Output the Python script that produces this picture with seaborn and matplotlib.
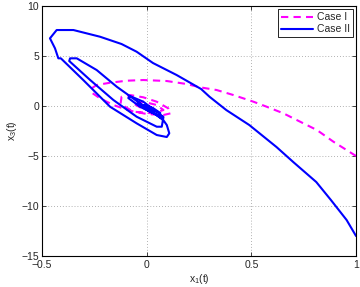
import numpy as np
import pandas as pd
import matplotlib
matplotlib.use("Agg")
import matplotlib.pyplot as plt
import seaborn as sns

# Case I (dashed magenta) trajectory
case1_x = [1.0, 0.892, 0.813, 0.733, 0.653, 0.573, 0.51, 0.414, 0.334, 0.255, 0.191, 0.096,
           -0.016, -0.096, -0.175, -0.239, -0.263, -0.258, -0.223, -0.159, -0.08, 0.0, 0.08,
           0.115, 0.103, 0.048, -0.016, -0.08, -0.12, -0.125, -0.064, 0.032, 0.08, 0.048,
           -0.016, -0.064, -0.032, 0.016, 0.03]
case1_y = [-5.0, -3.57, -2.4, -1.57, -0.73, -0.07, 0.43, 1.1, 1.6, 1.87, 2.2, 2.5,
           2.6, 2.53, 2.33, 2.1, 1.77, 1.27, 0.77, 0.1, -0.47, -0.8, -0.9,
           -0.73, -0.23, 0.43, 0.87, 1.1, 0.93, 0.2, -0.57, -0.73, -0.4, 0.1,
           0.43, 0.27, -0.13, -0.07, -0.3]

# Case II (solid blue) trajectory
case2_x = [1.0, 0.955, 0.88, 0.81, 0.70, 0.62, 0.49, 0.38, 0.30, 0.26, 0.143, 0.03, -0.048,
           -0.12, -0.223, -0.35, -0.43, -0.462, -0.438, -0.422, -0.41, -0.303, -0.175,
           -0.048, 0.048, 0.096, 0.108, 0.096, 0.079, -0.032, -0.143, -0.239, -0.334,
           -0.366, -0.37, -0.27, -0.159, -0.048, 0.048, 0.072, 0.08, -0.016, -0.08,
           -0.088, -0.032, 0.048, 0.072, 0.075, 0.02, -0.04, -0.045, 0.01, 0.06, 0.065,
           0.03, -0.01, 0.02, 0.05]
case2_y = [-13.0, -11.4, -9.4, -7.6, -5.6, -4.1, -1.9, -0.4, 0.93, 1.7, 3.1, 4.3, 5.43,
           6.2, 6.93, 7.6, 7.6, 6.77, 5.77, 4.77, 4.77, 2.6, -0.07,
           -1.73, -2.9, -3.1, -2.73, -1.9, -1.4, 0.27, 1.93, 3.6, 4.77,
           4.77, 4.5, 2.6, 0.6, -1.07, -2.07, -2.07, -1.1, 0.43, 1.0,
           0.8, -0.07, -0.9, -1.0, -1.3, -0.5, 0.4, 0.2, -0.5, -1.0, -0.7,
           -0.2, 0.1, -0.3, -0.6]

x_ticks = [-0.5, 0, 0.5, 1]
x_ticklabels = ["\u22120.5", "0", "0.5", "1"]
y_ticks = [-15, -10, -5, 0, 5, 10]
y_ticklabels = ["\u221215", "\u221210", "\u22125", "0", "5", "10"]

sns.set_style("white")
plt.rcParams['font.family'] = ['Liberation Sans', 'DejaVu Sans']
plt.rcParams['mathtext.fontset'] = 'custom'
plt.rcParams['mathtext.rm'] = 'Liberation Sans'
plt.rcParams['mathtext.it'] = 'Liberation Sans'

fig = plt.figure(figsize=(3.6, 2.87), dpi=100)
ax = fig.add_axes([0.1167, 0.108, 0.8723, 0.871])

df1 = pd.DataFrame({"x": case1_x, "y": case1_y})
df2 = pd.DataFrame({"x": case2_x, "y": case2_y})

sns.lineplot(data=df1, x="x", y="y", sort=False, estimator=None, ax=ax,
             color="#ff00ff", linewidth=1.5, linestyle=(0, (3.5, 2.5)), label="Case I")
sns.lineplot(data=df2, x="x", y="y", sort=False, estimator=None, ax=ax,
             color="#0000ff", linewidth=1.5, label="Case II")

ax.set_xlim(-0.5, 1)
ax.set_ylim(-15, 10)
ax.set_xticks(x_ticks)
ax.set_xticklabels(x_ticklabels)
ax.set_yticks(y_ticks)
ax.set_yticklabels(y_ticklabels)
ax.tick_params(direction="in", labelsize=7.5, length=3, width=0.6,
               top=True, right=True, bottom=True, left=True)
ax.tick_params(axis="x", pad=3)
ax.tick_params(axis="y", pad=2)
ax.grid(True, linestyle=(0, (1, 2.5)), color="#999999", linewidth=0.6)
for s in ax.spines.values():
    s.set_visible(True)
    s.set_color("black")
    s.set_linewidth(0.8)

ax.set_xlabel("x$_1$(t)", fontsize=7.5, labelpad=1)
ax.set_ylabel("x$_3$(t)", fontsize=7.5, labelpad=2)

leg = ax.legend(loc="upper right", fontsize=7.5, frameon=True, fancybox=False,
                edgecolor="black", framealpha=1, borderpad=0.3, handlelength=3,
                handletextpad=0.4, labelspacing=0.2, borderaxespad=0.3)
leg.get_frame().set_linewidth(0.6)

fig.savefig("out.png", dpi=100)
